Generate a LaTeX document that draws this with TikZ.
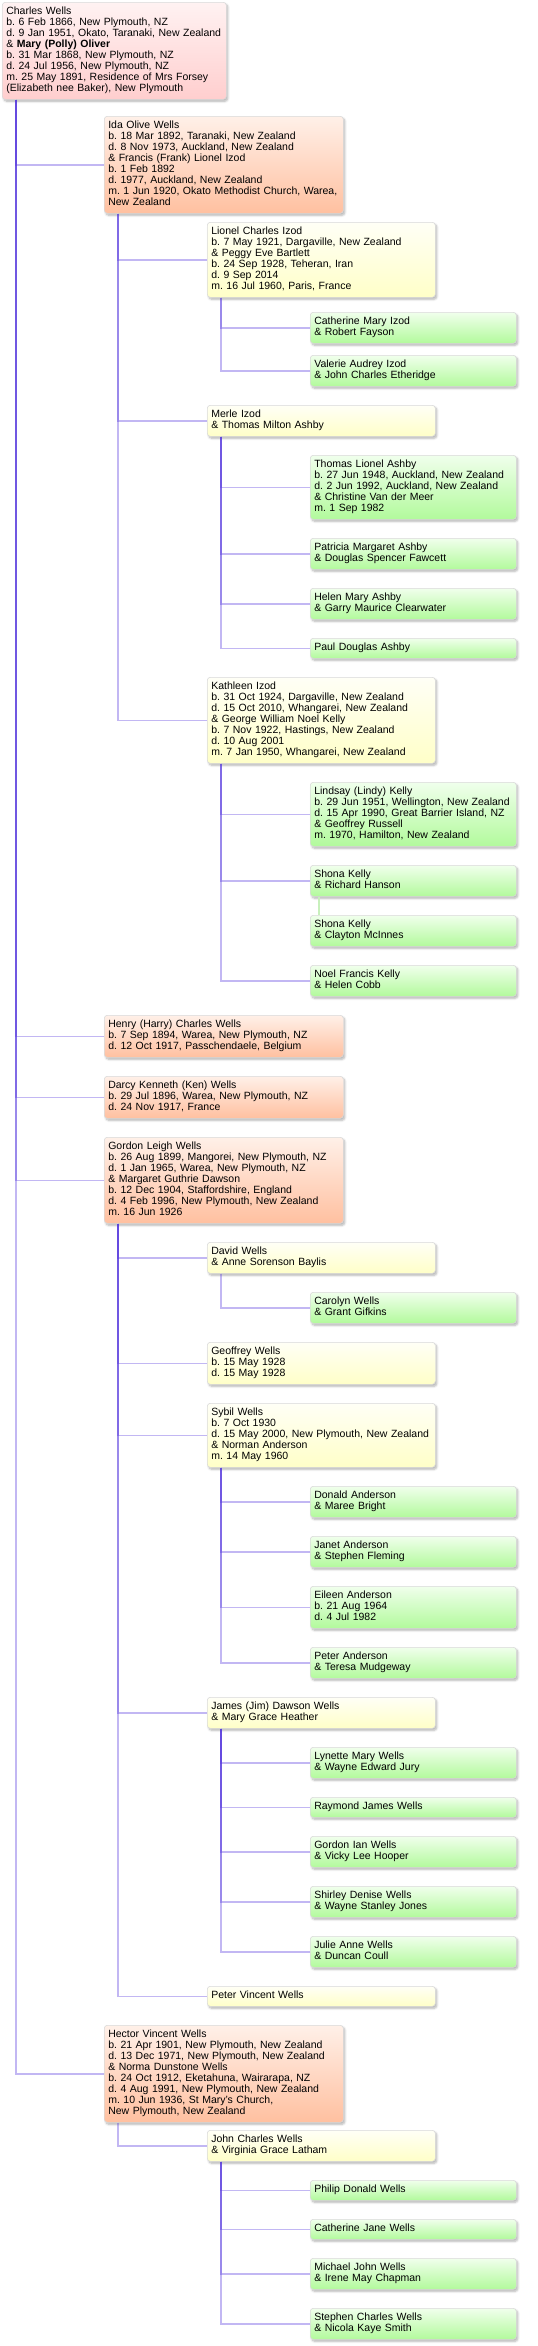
\documentclass[tikz,border=0pt]{standalone}
\usepackage{fontspec}
\setmainfont{Liberation Sans}
\usetikzlibrary{shadows.blur}
\definecolor{linkblue}{RGB}{80,50,220}
\definecolor{boxborder}{RGB}{218,218,218}
\definecolor{rootTop}{RGB}{255,242,242}
\definecolor{rootBot}{RGB}{255,206,206}
\definecolor{peachTop}{RGB}{255,240,232}
\definecolor{peachBot}{RGB}{255,192,160}
\definecolor{yellowTop}{RGB}{255,255,246}
\definecolor{yellowBot}{RGB}{255,255,200}
\definecolor{greenTop}{RGB}{240,255,236}
\definecolor{greenBot}{RGB}{178,250,156}
\definecolor{spouselink}{RGB}{200,240,188}
\tikzset{
  person/.style = {
    draw=boxborder, line width=0.6pt, rounded corners=3pt,
    anchor=north west, align=left, inner xsep=4pt, inner ysep=4.5pt,
    font=\fontsize{10.5}{11}\selectfont\frenchspacing,
    execute at begin node=\strut, execute at end node=\strut,
    blur shadow={shadow xshift=1.5pt, shadow yshift=-2pt, shadow blur steps=6, shadow opacity=30}
  },
  gen0/.style = {person, text width=216pt, top color=rootTop, bottom color=rootBot},
  gen1/.style = {person, text width=231pt, top color=peachTop, bottom color=peachBot},
  gen2/.style = {person, text width=220pt, top color=yellowTop, bottom color=yellowBot},
  gen3/.style = {person, text width=198pt, top color=greenTop, bottom color=greenBot},
  link/.style = {draw=linkblue, draw opacity=0.35, line width=1.6pt},
  remarried/.style = {draw=spouselink, line width=1.6pt}
}

\begin{document}
\begin{tikzpicture}[x=1pt,y=-1pt]
  \pgfmathsetmacro{\colA}{2};
  \pgfmathsetmacro{\colB}{104};
  \pgfmathsetmacro{\colC}{207};
  \pgfmathsetmacro{\colD}{310};
  \pgfmathsetmacro{\drop}{14};
  %
  \useasboundingbox (0,0) rectangle (538,2346);
  % root
  \node[gen0] (charles) at (\colA,2) {Charles Wells\\
    b. 6 Feb 1866, New Plymouth, NZ\\
    d. 9 Jan 1951, Okato, Taranaki, New Zealand\\
    \& \textbf{Mary (Polly) Oliver}\\
    b. 31 Mar 1868, New Plymouth, NZ\\
    d. 24 Jul 1956, New Plymouth, NZ\\
    m. 25 May 1891, Residence of Mrs Forsey\\
    (Elizabeth nee Baker), New Plymouth};
  % children
  \node[gen1] (ida) at (\colB,116) {Ida Olive Wells\\
    b. 18 Mar 1892, Taranaki, New Zealand\\
    d. 8 Nov 1973, Auckland, New Zealand\\
    \& Francis (Frank) Lionel Izod\\
    b. 1 Feb 1892\\
    d. 1977, Auckland, New Zealand\\
    m. 1 Jun 1920, Okato Methodist Church, Warea,\\
    New Zealand};
  \node[gen1] (henry) at (\colB,1015) {Henry (Harry) Charles Wells\\
    b. 7 Sep 1894, Warea, New Plymouth, NZ\\
    d. 12 Oct 1917, Passchendaele, Belgium};
  \node[gen1] (darcy) at (\colB,1076) {Darcy Kenneth (Ken) Wells\\
    b. 29 Jul 1896, Warea, New Plymouth, NZ\\
    d. 24 Nov 1917, France};
  \node[gen1] (gordon) at (\colB,1137) {Gordon Leigh Wells\\
    b. 26 Aug 1899, Mangorei, New Plymouth, NZ\\
    d. 1 Jan 1965, Warea, New Plymouth, NZ\\
    \& Margaret Guthrie Dawson\\
    b. 12 Dec 1904, Staffordshire, England\\
    d. 4 Feb 1996, New Plymouth, New Zealand\\
    m. 16 Jun 1926};
  \node[gen1] (hector) at (\colB,2025) {Hector Vincent Wells\\
    b. 21 Apr 1901, New Plymouth, New Zealand\\
    d. 13 Dec 1971, New Plymouth, New Zealand\\
    \& Norma Dunstone Wells\\
    b. 24 Oct 1912, Eketahuna, Wairarapa, NZ\\
    d. 4 Aug 1991, New Plymouth, New Zealand\\
    m. 10 Jun 1936, St Mary's Church,\\
    New Plymouth, New Zealand};
  % grandchildren
  \node[gen2] (lionel) at (\colC,222) {Lionel Charles Izod\\
    b. 7 May 1921, Dargaville, New Zealand\\
    \& Peggy Eve Bartlett\\
    b. 24 Sep 1928, Teheran, Iran\\
    d. 9 Sep 2014\\
    m. 16 Jul 1960, Paris, France};
  \node[gen2] (merle) at (\colC,405) {Merle Izod\\ \& Thomas Milton Ashby};
  \node[gen2] (kathleen) at (\colC,677) {Kathleen Izod\\
    b. 31 Oct 1924, Dargaville, New Zealand\\
    d. 15 Oct 2010, Whangarei, New Zealand\\
    \& George William Noel Kelly\\
    b. 7 Nov 1922, Hastings, New Zealand\\
    d. 10 Aug 2001\\
    m. 7 Jan 1950, Whangarei, New Zealand};
  \node[gen2] (david) at (\colC,1242) {David Wells\\ \& Anne Sorenson Baylis};
  \node[gen2] (geoffrey) at (\colC,1342) {Geoffrey Wells\\ b. 15 May 1928\\ d. 15 May 1928};
  \node[gen2] (sybil) at (\colC,1403) {Sybil Wells\\
    b. 7 Oct 1930\\
    d. 15 May 2000, New Plymouth, New Zealand\\
    \& Norman Anderson\\
    m. 14 May 1960};
  \node[gen2] (james) at (\colC,1697) {James (Jim) Dawson Wells\\ \& Mary Grace Heather};
  \node[gen2] (petervincent) at (\colC,1986) {Peter Vincent Wells};
  \node[gen2] (john) at (\colC,2130) {John Charles Wells\\ \& Virginia Grace Latham};
  % great-grandchildren
  \node[gen3] (catherinemary) at (\colD,312) {Catherine Mary Izod\\ \& Robert Fayson};
  \node[gen3] (valerie) at (\colD,355) {Valerie Audrey Izod\\ \& John Charles Etheridge};
  \node[gen3] (thomas) at (\colD,455) {Thomas Lionel Ashby\\
    b. 27 Jun 1948, Auckland, New Zealand\\
    d. 2 Jun 1992, Auckland, New Zealand\\
    \& Christine Van der Meer\\
    m. 1 Sep 1982};
  \node[gen3] (patricia) at (\colD,538) {Patricia Margaret Ashby\\ \& Douglas Spencer Fawcett};
  \node[gen3] (helen) at (\colD,588) {Helen Mary Ashby\\ \& Garry Maurice Clearwater};
  \node[gen3] (paul) at (\colD,638) {Paul Douglas Ashby};
  \node[gen3] (lindsay) at (\colD,782) {Lindsay (Lindy) Kelly\\
    b. 29 Jun 1951, Wellington, New Zealand\\
    d. 15 Apr 1990, Great Barrier Island, NZ\\
    \& Geoffrey Russell\\
    m. 1970, Hamilton, New Zealand};
  \node[gen3] (shonaA) at (\colD,865) {Shona Kelly\\ \& Richard Hanson};
  \node[gen3] (shonaB) at (\colD,915) {Shona Kelly\\ \& Clayton McInnes};
  \node[gen3] (noel) at (\colD,965) {Noel Francis Kelly\\ \& Helen Cobb};
  \node[gen3] (carolyn) at (\colD,1292) {Carolyn Wells\\ \& Grant Gifkins};
  \node[gen3] (donald) at (\colD,1486) {Donald Anderson\\ \& Maree Bright};
  \node[gen3] (janet) at (\colD,1536) {Janet Anderson\\ \& Stephen Fleming};
  \node[gen3] (eileen) at (\colD,1586) {Eileen Anderson\\ b. 21 Aug 1964\\ d. 4 Jul 1982};
  \node[gen3] (peterand) at (\colD,1647) {Peter Anderson\\ \& Teresa Mudgeway};
  \node[gen3] (lynette) at (\colD,1747) {Lynette Mary Wells\\ \& Wayne Edward Jury};
  \node[gen3] (raymond) at (\colD,1797) {Raymond James Wells};
  \node[gen3] (gordonian) at (\colD,1836) {Gordon Ian Wells\\ \& Vicky Lee Hooper};
  \node[gen3] (shirley) at (\colD,1886) {Shirley Denise Wells\\ \& Wayne Stanley Jones};
  \node[gen3] (julie) at (\colD,1936) {Julie Anne Wells\\ \& Duncan Coull};
  \node[gen3] (philip) at (\colD,2180) {Philip Donald Wells};
  \node[gen3] (catherinejane) at (\colD,2219) {Catherine Jane Wells};
  \node[gen3] (michael) at (\colD,2258) {Michael John Wells\\ \& Irene May Chapman};
  \node[gen3] (stephen) at (\colD,2308) {Stephen Charles Wells\\ \& Nicola Kaye Smith};
  % links
  \foreach \parent/\child in {charles/ida, charles/henry, charles/darcy, charles/gordon, charles/hector,
      ida/lionel, ida/merle, ida/kathleen,
      lionel/catherinemary, lionel/valerie,
      merle/thomas, merle/patricia, merle/helen, merle/paul,
      kathleen/lindsay, kathleen/shonaA, kathleen/noel,
      gordon/david, gordon/geoffrey, gordon/sybil, gordon/james, gordon/petervincent,
      david/carolyn,
      sybil/donald, sybil/janet, sybil/eileen, sybil/peterand,
      james/lynette, james/raymond, james/gordonian, james/shirley, james/julie,
      hector/john,
      john/philip, john/catherinejane, john/michael, john/stephen}
    \draw[link] ([xshift=\drop pt]\parent.south west) |- (\child.west);
  % second marriage
  \draw[remarried] ([xshift=9pt]shonaA.south west) -- ([xshift=9pt]shonaB.north west);
\end{tikzpicture}
\end{document}
